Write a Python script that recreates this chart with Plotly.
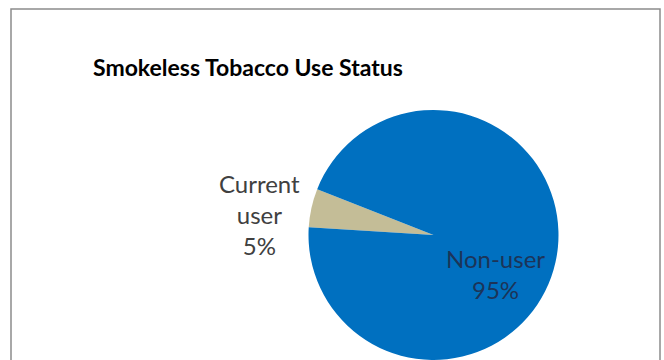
import plotly.graph_objects as go

# Data
labels = ["Current user", "Non-user"]
values = [5, 95]
colors = ["#C4BD97", "#0070C0"]
title_text = "Smokeless Tobacco Use Status"

W, H = 664, 360

def px(x):
    return x / W

def py(y):
    return 1 - y / H

# pie geometry (pixels)
cx, cy, r = 433.5, 235, 125

fig = go.Figure(
    go.Pie(
        labels=labels,
        values=values,
        marker=dict(colors=colors, line=dict(width=0)),
        sort=False,
        direction="clockwise",
        rotation=273.5,
        textinfo="none",
        hoverinfo="label+percent",
        showlegend=False,
        domain=dict(x=[px(cx - r), px(cx + r)], y=[py(cy + r), py(cy - r)]),
    )
)

total = sum(values)
pct = [round(v / total * 100) for v in values]

label_pos = {
    "Current user": (259, 214, "#404040"),
    "Non-user": (495, 274, "#1c3458"),
}

annotations = [
    dict(
        text=title_text,
        x=px(91), y=py(67), xref="paper", yref="paper",
        xanchor="left", yanchor="middle", showarrow=False,
        font=dict(family="Lato", size=23, color="#000000", weight="bold"),
    )
]
for lab, p in zip(labels, pct):
    x, y, col = label_pos[lab]
    if lab == "Current user":
        txt = lab.replace(" ", "<br>") + f"<br>{p}%"
    else:
        txt = f"{lab}<br>{p}%"
    annotations.append(
        dict(
            text=txt, x=px(x), y=py(y), xref="paper", yref="paper",
            xanchor="center", yanchor="middle", showarrow=False, align="center",
            font=dict(family="Lato", size=24, color=col),
        )
    )

fig.update_layout(
    width=W,
    height=H,
    margin=dict(l=0, r=0, t=0, b=0),
    paper_bgcolor="white",
    plot_bgcolor="white",
    annotations=annotations,
    shapes=[
        dict(
            type="rect", xref="paper", yref="paper",
            x0=px(11), x1=px(660), y0=py(9), y1=-0.2,
            line=dict(color="#8c8c8c", width=1.5), fillcolor="rgba(0,0,0,0)",
            layer="below",
        )
    ],
)

fig.write_html("out.html")
